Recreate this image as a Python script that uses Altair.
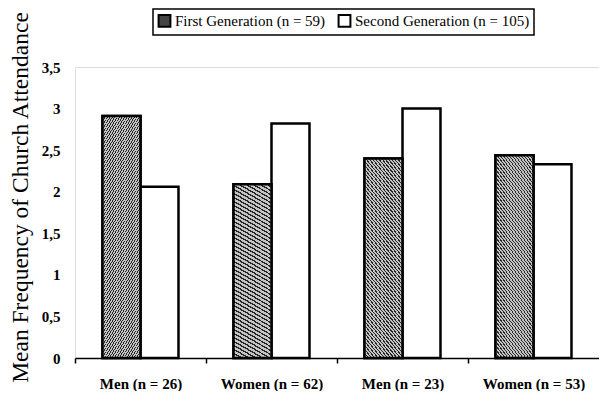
import math
import altair as alt
import pandas as pd

groups = ["Men (n = 26)", "Women (n = 62)", "Men (n = 23)", "Women (n = 53)"]
generations = ["First Generation (n = 59)", "Second Generation (n = 105)"]
first_gen = [2.91, 2.09, 2.40, 2.44]
second_gen = [2.06, 2.82, 3.00, 2.33]
y_ticks = [0, 0.5, 1, 1.5, 2, 2.5, 3, 3.5]

rows = []
for g, a, b in zip(groups, first_gen, second_gen):
    rows.append({"group": g, "gen": generations[0], "value": a})
    rows.append({"group": g, "gen": generations[1], "value": b})
df = pd.DataFrame(rows)

W, H = 524, 291
YMAX = 3.5
SERIF = "Liberation Serif"

x_enc = alt.X("group:N", sort=groups,
              scale=alt.Scale(paddingInner=0.42, paddingOuter=0.21),
              axis=alt.Axis(title=None, labelFont=SERIF, labelFontWeight="bold",
                            labelFontSize=15, labelColor="black", labelAngle=0,
                            domainColor="black", domainWidth=1.5,
                            tickColor="black", tickWidth=1.5, tickSize=5,
                            tickOffset=-W / 8, labelOffset=W / 8, labelPadding=13))
xo_enc = alt.XOffset("gen:N", sort=generations)
y_enc = alt.Y("value:Q",
              scale=alt.Scale(domain=[0, YMAX], nice=False),
              axis=alt.Axis(title="Mean Frequency of Church Attendance",
                            titleFont=SERIF, titleFontSize=23.5, titleFontWeight="normal",
                            titleColor="black", titlePadding=9, titleY=130,
                            values=y_ticks, labelExpr="replace(toString(datum.value), '.', ',')",
                            labelFont=SERIF, labelFontWeight="bold", labelFontSize=15,
                            labelColor="black", labelPadding=15,
                            domain=False, ticks=False, grid=False))

base = alt.Chart(df).mark_bar(stroke="black", strokeWidth=2.5).encode(
    x=x_enc, xOffset=xo_enc, y=y_enc,
    fill=alt.Fill("gen:N", sort=generations,
                  scale=alt.Scale(domain=generations, range=["#444444", "white"]),
                  legend=alt.Legend(title=None, orient="none", direction="horizontal",
                                    legendX=78, legendY=-58,
                                    strokeColor="black", padding=4,
                                    labelFont=SERIF, labelFontSize=15, labelColor="black",
                                    labelLimit=0,
                                    symbolType="square", symbolSize=140,
                                    symbolStrokeColor="black", symbolStrokeWidth=2,
                                    columnPadding=8, labelOffset=3)),
)


def hatch(value, period=4 / math.sqrt(2)):
    h = value * H / YMAX
    side = max(h, W / 4 * 0.58 / 2)
    dt = period / (side * math.sqrt(2))
    stops = []
    t = 0.0
    while t < 1.0:
        m = min(t + dt * 0.38, 1.0)
        e = min(t + dt, 1.0)
        stops += [{"offset": t, "color": "#262626"}, {"offset": m, "color": "#262626"},
                  {"offset": m, "color": "#c4c4c4"}, {"offset": e, "color": "#c4c4c4"}]
        t += dt
    return {"gradient": "linear", "x1": 0, "y1": 1, "x2": 1, "y2": 0, "stops": stops}


layers = [base]
for g, v in zip(groups, first_gen):
    layers.append(
        alt.Chart(df).transform_filter(
            (alt.datum.group == g) & (alt.datum.gen == generations[0])
        ).mark_bar(fill=hatch(v), stroke="black", strokeWidth=2.5).encode(
            x=x_enc, xOffset=xo_enc, y=y_enc)
    )

chart = alt.layer(*layers).properties(width=W, height=H, padding=0).configure_view(
    stroke=None).configure(background="white").configure_legend(strokeWidth=1.5)

chart.save("out.html", embed_options={"renderer": "svg", "actions": False})
